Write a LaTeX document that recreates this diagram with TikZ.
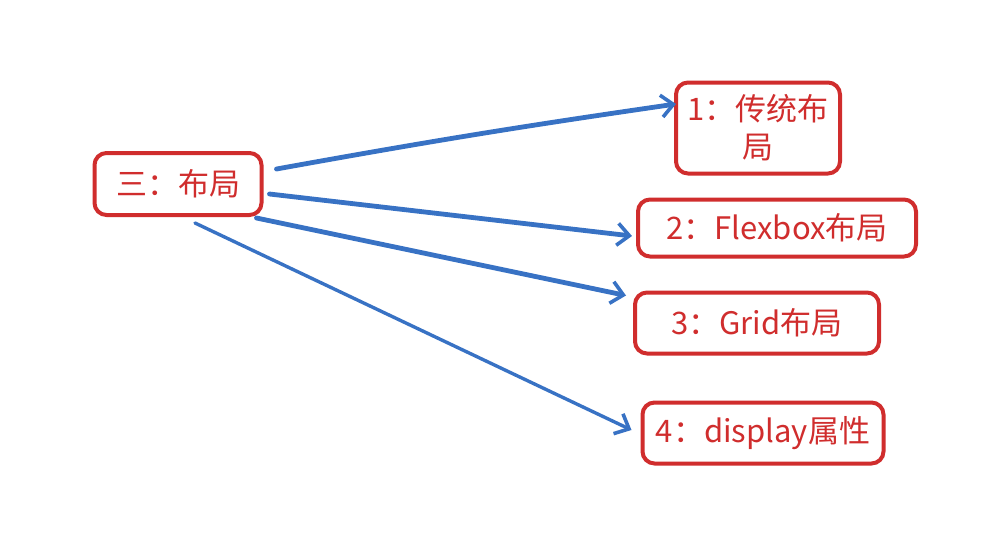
\documentclass[tikz,border=0pt]{standalone}
\usepackage{fontspec}
\usepackage{tikz}
\usetikzlibrary{arrows.meta}
\newfontfamily\cjk{Noto Sans CJK SC}
\definecolor{boxred}{RGB}{208,45,45}
\definecolor{linkblue}{RGB}{56,114,196}

\begin{document}
\begin{tikzpicture}[x=0.5pt, y=-0.5pt,
    box/.style={draw=boxred, line width=2pt, rounded corners=6pt, fill=white,
        text=boxred, font=\cjk\fontsize{15.5}{19}\selectfont, inner sep=2pt, align=center},
    link/.style={draw=linkblue, line width=2.4pt, line cap=round,
        -{Straight Barb[length=6pt, width=11pt, line width=1.8pt]}}]
        \useasboundingbox (0,0) rectangle (1008,547);
        % root
        \node[box, minimum width=83.5pt, minimum height=31pt] (layout) at (178,184) {三：布局};
        % children
        \node[box, minimum width=82pt, minimum height=45.5pt, text width=72pt] (classic) at (758,128) {1：传统布\\局};
        \node[box, minimum width=139pt, minimum height=28.5pt] (flexbox) at (777,228) {2：Flexbox布局};
        \node[box, minimum width=122pt, minimum height=30.5pt] (grid) at (757,323) {3：Grid布局};
        \node[box, minimum width=120.5pt, minimum height=30.5pt] (display) at (763,433) {4：display属性};
        % arrows
        \draw[link] ([xshift=6.5pt, yshift=7.5pt]layout.east) to[bend left=1] ([xshift=1pt, yshift=12pt]classic.west);
        \draw[link] ([xshift=3pt, yshift=-5pt]layout.east) -- ([xshift=-2pt, yshift=-4pt]flexbox.west);
        \draw[link] ([xshift=-3.5pt, yshift=-0.5pt]layout.south east) -- ([xshift=-3.5pt, yshift=-2.5pt]grid.north west);
        \draw[link, line width=1.7pt] ([xshift=8.5pt, yshift=-3pt]layout.south) -- ([xshift=-4.5pt, yshift=1.5pt]display.west);
    \end{tikzpicture}
\end{document}
